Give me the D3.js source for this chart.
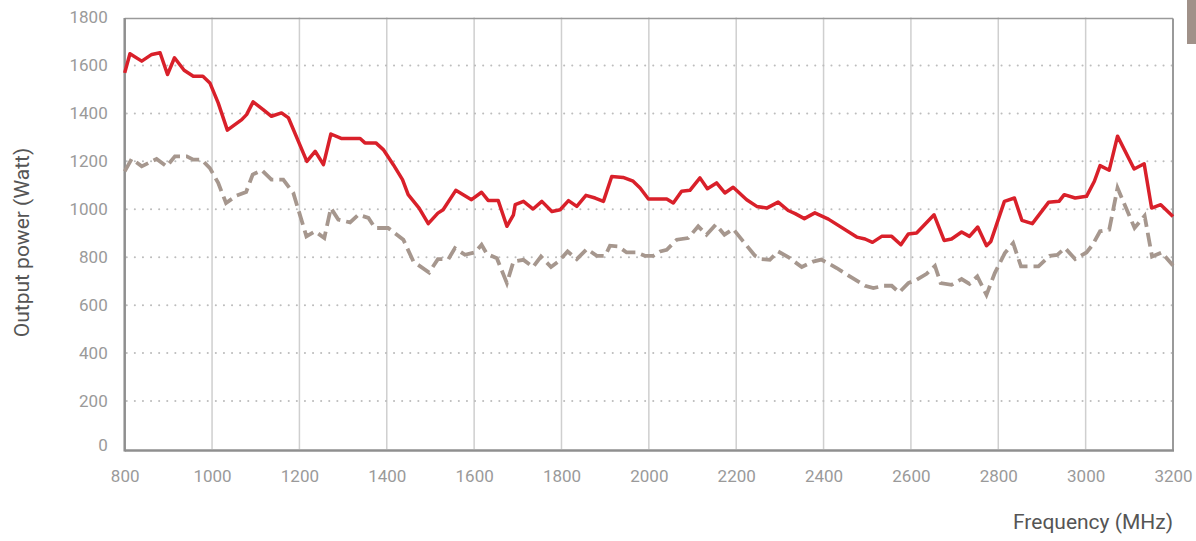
<!DOCTYPE html>
<html>
<head>
<meta charset="utf-8">
<script src="https://cdn.jsdelivr.net/npm/d3@7"></script>
<style>
    body { margin: 0; background: #fff; }
    #wrapper { width: 1196px; height: 541px; }
    text { font-family: Roboto, "Open Sans", sans-serif; }
</style>
</head>
<body>
<div id="wrapper"></div>
<script>
// readings (MHz / Watt)
const redFreq = [800, 812, 839, 862, 881, 898, 914, 936, 957, 979, 995, 1014, 1035, 1068, 1079, 1094, 1117, 1136, 1159, 1175,
    1217, 1236, 1255, 1272, 1297, 1339, 1350, 1375, 1392, 1415, 1436, 1449, 1474, 1495, 1517, 1529, 1558, 1594, 1617, 1632,
    1655, 1675, 1690, 1694, 1713, 1735, 1755, 1778, 1797, 1816, 1835, 1856, 1877, 1896, 1915, 1941, 1964, 1980, 1999, 2041,
    2056, 2075, 2094, 2117, 2134, 2155, 2174, 2193, 2224, 2247, 2270, 2296, 2319, 2335, 2356, 2380, 2411, 2476, 2495, 2512,
    2533, 2556, 2577, 2594, 2613, 2653, 2676, 2693, 2716, 2734, 2753, 2773, 2783, 2814, 2837, 2854, 2878, 2915, 2939, 2951,
    2976, 3002, 3020, 3033, 3054, 3073, 3111, 3134, 3151, 3172, 3200];
const redPower = [1569, 1649, 1618, 1646, 1653, 1562, 1632, 1580, 1555, 1555, 1527, 1444, 1330, 1374, 1395, 1448, 1416, 1388, 1402, 1381,
    1200, 1242, 1186, 1314, 1295, 1295, 1277, 1277, 1249, 1186, 1124, 1061, 1005, 940, 984, 998, 1079, 1040, 1071, 1037,
    1037, 929, 977, 1019, 1033, 1001, 1033, 991, 998, 1036, 1012, 1058, 1047, 1033, 1137, 1133, 1117, 1089, 1043, 1043,
    1026, 1075, 1079, 1131, 1086, 1110, 1068, 1092, 1040, 1012, 1005, 1030, 995, 982, 961, 985, 959, 884, 876, 862,
    887, 887, 852, 897, 901, 977, 870, 876, 905, 887, 926, 848, 866, 1033, 1047, 954, 940, 1029, 1033, 1061,
    1047, 1054, 1117, 1182, 1163, 1305, 1168, 1190, 1005, 1019, 970];

const grayFreq = [800, 816, 839, 873, 896, 915, 942, 957, 976, 995, 1014, 1032, 1056, 1078, 1093, 1114, 1136, 1163, 1186, 1216,
    1236, 1257, 1272, 1289, 1316, 1335, 1358, 1373, 1403, 1438, 1461, 1497, 1517, 1541, 1556, 1579, 1602, 1617, 1629, 1652,
    1675, 1690, 1713, 1735, 1753, 1776, 1793, 1814, 1835, 1858, 1881, 1900, 1911, 1930, 1949, 1972, 1991, 2010, 2026, 2041,
    2064, 2090, 2113, 2132, 2153, 2173, 2193, 2216, 2243, 2258, 2277, 2296, 2319, 2350, 2376, 2395, 2430, 2460, 2495, 2514,
    2537, 2556, 2573, 2594, 2613, 2636, 2655, 2668, 2693, 2716, 2734, 2752, 2773, 2792, 2815, 2834, 2852, 2892, 2918, 2935,
    2953, 2976, 3002, 3016, 3033, 3054, 3073, 3112, 3135, 3152, 3174, 3200];
const grayPower = [1158, 1210, 1179, 1210, 1179, 1221, 1221, 1207, 1207, 1172, 1110, 1026, 1057, 1072, 1145, 1163, 1124, 1124, 1068, 887,
    908, 880, 1005, 957, 945, 977, 964, 922, 922, 873, 782, 736, 792, 792, 838, 810, 820, 852, 814, 796,
    692, 782, 789, 759, 803, 759, 782, 824, 792, 834, 806, 806, 848, 845, 820, 820, 806, 806, 824, 831,
    873, 880, 929, 894, 936, 894, 918, 866, 806, 792, 789, 824, 801, 759, 782, 790, 755, 720, 681, 671,
    681, 681, 653, 692, 706, 731, 764, 692, 685, 709, 689, 720, 643, 734, 817, 859, 762, 762, 806, 810,
    838, 792, 820, 852, 908, 915, 1089, 922, 973, 803, 820, 765];

const yTicks = [0, 200, 400, 600, 800, 1000, 1200, 1400, 1600, 1800];
const xTicks = [800, 1000, 1200, 1400, 1600, 1800, 2000, 2200, 2400, 2600, 2800, 3000, 3200];

function drawChart() {
    const dimensions = {
        width: 1196,
        height: 541,
        margin: { top: 17.5, right: 23, bottom: 92, left: 124.7 }
    };
    dimensions.boundedWidth = dimensions.width - dimensions.margin.left - dimensions.margin.right;
    dimensions.boundedHeight = dimensions.height - dimensions.margin.top - dimensions.margin.bottom;

    const wrapper = d3.select("#wrapper")
        .append("svg")
        .attr("width", dimensions.width)
        .attr("height", dimensions.height);

    const bounds = wrapper.append("g")
        .attr("transform", `translate(${dimensions.margin.left},${dimensions.margin.top})`);

    const xScale = d3.scaleLinear()
        .domain([800, 3200])
        .range([0, dimensions.boundedWidth]);

    const yScale = d3.scaleLinear()
        .domain([0, 1800])
        .range([dimensions.boundedHeight, 0]);

    // grid
    bounds.append("g")
        .selectAll("line")
        .data(xTicks.slice(1, -1))
        .join("line")
        .attr("x1", d => xScale(d))
        .attr("x2", d => xScale(d))
        .attr("y1", 0)
        .attr("y2", dimensions.boundedHeight)
        .attr("stroke", "#cfcfcf")
        .attr("stroke-width", 1.5);

    bounds.append("g")
        .selectAll("line")
        .data(yTicks.slice(1, -1))
        .join("line")
        .attr("x1", 2)
        .attr("x2", dimensions.boundedWidth + 2)
        .attr("y1", d => yScale(d))
        .attr("y2", d => yScale(d))
        .attr("stroke", "#bdbdbd")
        .attr("stroke-width", 2)
        .attr("stroke-linecap", "round")
        .attr("stroke-dasharray", "0.1,8");

    // frame
    bounds.append("line")
        .attr("x1", 0).attr("x2", dimensions.boundedWidth)
        .attr("y1", 1).attr("y2", 1)
        .attr("stroke", "#9a9a9a").attr("stroke-width", 1.5);
    bounds.append("line")
        .attr("x1", dimensions.boundedWidth).attr("x2", dimensions.boundedWidth)
        .attr("y1", 1).attr("y2", dimensions.boundedHeight + 2)
        .attr("stroke", "#9a9a9a").attr("stroke-width", 2);
    bounds.append("line")
        .attr("x1", 0).attr("x2", dimensions.boundedWidth + 1)
        .attr("y1", dimensions.boundedHeight + 1.5).attr("y2", dimensions.boundedHeight + 1.5)
        .attr("stroke", "#8f8f8f").attr("stroke-width", 2.5);
    bounds.append("line")
        .attr("x1", 0).attr("x2", 0)
        .attr("y1", 0.5).attr("y2", dimensions.boundedHeight + 2.5)
        .attr("stroke", "#8f8f8f").attr("stroke-width", 2.5);

    // lines
    const lineGenerator = d3.line()
        .x(d => xScale(d[0]))
        .y(d => yScale(d[1]));

    bounds.append("path")
        .attr("d", lineGenerator(d3.zip(grayFreq, grayPower)))
        .attr("fill", "none")
        .attr("stroke", "#a6978e")
        .attr("stroke-width", 3.8)
        .attr("stroke-dasharray", "14,6");

    bounds.append("path")
        .attr("d", lineGenerator(d3.zip(redFreq, redPower)))
        .attr("fill", "none")
        .attr("stroke", "#d9202a")
        .attr("stroke-width", 3.5)
        .attr("stroke-linejoin", "round");

    // axes
    const xAxisGenerator = d3.axisBottom(xScale)
        .tickValues(xTicks)
        .tickFormat(d3.format("d"))
        .tickSize(0)
        .tickPadding(21);

    const xAxis = bounds.append("g")
        .attr("transform", `translate(0,${dimensions.boundedHeight})`)
        .call(xAxisGenerator);

    const yAxisGenerator = d3.axisLeft(yScale)
        .tickValues(yTicks)
        .tickFormat(d3.format("d"))
        .tickSize(0)
        .tickPadding(17);

    const yAxis = bounds.append("g")
        .call(yAxisGenerator);

    [xAxis, yAxis].forEach(axis => {
        axis.select(".domain").remove();
        axis.selectAll("text")
            .attr("fill", "#9a9a9a")
            .style("font-family", "Roboto, sans-serif")
            .style("font-size", "17px");
    });
    yAxis.selectAll(".tick text")
        .filter(d => d === 0)
        .attr("dy", "0.1em");

    bounds.append("text")
        .attr("x", dimensions.boundedWidth)
        .attr("y", dimensions.boundedHeight + 80)
        .attr("text-anchor", "end")
        .attr("fill", "#555")
        .style("font-size", "21px")
        .text("Frequency (MHz)");

    wrapper.append("text")
        .attr("transform", `translate(29,${dimensions.margin.top + 225}) rotate(-90)`)
        .attr("text-anchor", "middle")
        .attr("fill", "#555")
        .style("font-size", "21px")
        .text("Output power (Watt)");

    // small swatch cut at the top right
    wrapper.append("rect")
        .attr("x", 1187)
        .attr("y", 0)
        .attr("width", 9)
        .attr("height", 44)
        .attr("fill", "#a09189");
}

drawChart();
</script>
</body>
</html>
